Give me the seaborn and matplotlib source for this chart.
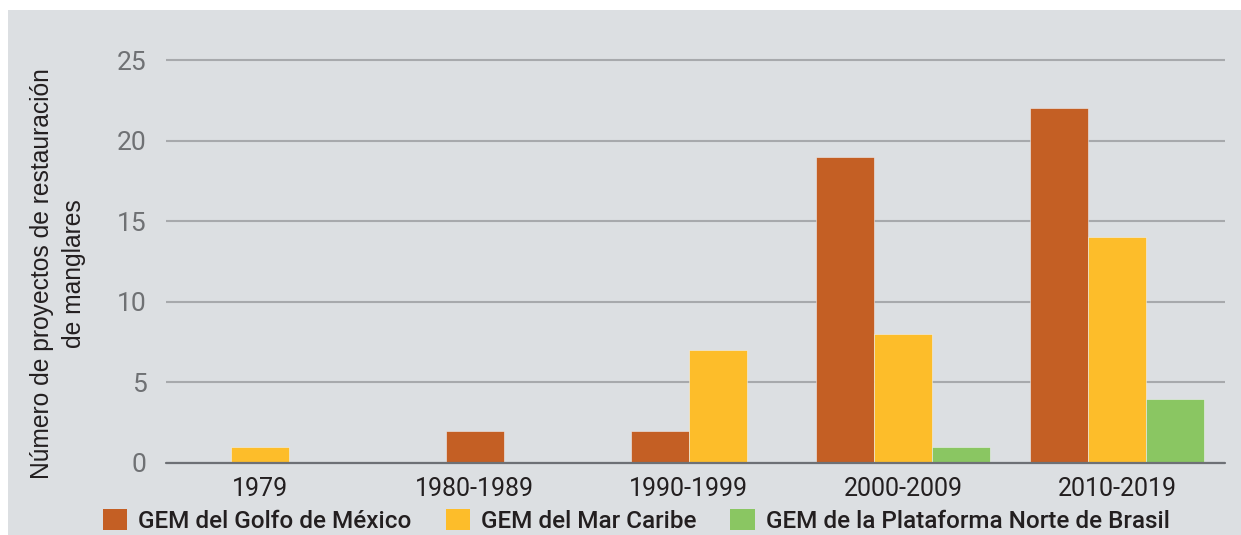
import numpy as np
import pandas as pd
import matplotlib
matplotlib.use("Agg")
import matplotlib.pyplot as plt
from matplotlib.patches import Rectangle, Patch
import seaborn as sns

# Mangrove restoration projects per decade and ecoregion
decades = ["1979", "1980-1989", "1990-1999", "2000-2009", "2010-2019"]
series = [
    "GEM del Golfo de México",
    "GEM del Mar Caribe",
    "GEM de la Plataforma Norte de Brasil",
]
golfo = [0, 2, 2, 19, 22]
caribe = [1, 0, 7, 8, 14]
brasil = [0, 0, 0, 1, 4]
y_ticks = [0, 5, 10, 15, 20, 25]
y_label = "Número de proyectos de restauración\nde manglares"

colors = ["#C45F24", "#FDBD2A", "#8AC662"]
panel_bg = "#DCDFE2"
bar_w = 0.271  # bar width in category units

sns.set_style("white")
plt.rcParams["font.family"] = ["Roboto", "DejaVu Sans"]

# Long-form table; only non-zero bars are drawn, centred within each decade
rows = []
for i, dec in enumerate(decades):
    vals = [(s, v[i]) for s, v in zip(series, [golfo, caribe, brasil]) if v[i] > 0]
    n = len(vals)
    for k, (s, v) in enumerate(vals):
        rows.append({"pos": i + (k - (n - 1) / 2) * bar_w, "valor": v, "serie": s})
df = pd.DataFrame(rows)

fig = plt.figure(figsize=(12.41, 5.35), dpi=100, facecolor="white")
fig.patches.append(Rectangle((8 / 1241, 0), 1 - 8 / 1241, 1 - 10 / 535,
                             transform=fig.transFigure, facecolor=panel_bg,
                             edgecolor="none", zorder=-10))

ax = fig.add_axes([166 / 1241, (535 - 463) / 535, (1225 - 166) / 1241, (463 - 58.4) / 535])
ax.set_facecolor(panel_bg)
ax.set_zorder(1)

sns.barplot(data=df, x="pos", y="valor", hue="serie", hue_order=series,
            palette=colors, native_scale=True, dodge=False, width=1.0,
            errorbar=None, legend=False, ax=ax,
            edgecolor="#EEF0F2", linewidth=0.4, saturation=1)

ax.set_xlim(-0.441, 4.503)
ax.set_ylim(0, 25.1)
ax.set_yticks(y_ticks)
ax.set_yticklabels([str(t) for t in y_ticks])
ax.set_xticks(range(len(decades)))
ax.set_xticklabels(decades)
ax.set_xlabel("")
ax.set_ylabel("")

ax.yaxis.grid(True, color="#A7A9AC", linewidth=1.5)
ax.xaxis.grid(False)
ax.set_axisbelow(True)
ax.axhline(0, color="#6D7075", linewidth=1.6, zorder=5, clip_on=False)
for sp in ax.spines.values():
    sp.set_visible(False)

ax.tick_params(axis="y", length=0, pad=14, labelsize=19, labelcolor="#6F7174")
ax.tick_params(axis="x", length=0, pad=10, labelsize=18, labelcolor="#231F20")

fig.text(58 / 1241, 1 - 274 / 535, y_label, rotation=90, ha="center", va="center",
         multialignment="center", fontsize=17.7, color="#231F20",
         family=["Liberation Sans", "DejaVu Sans"], linespacing=1.4)

handles = [Patch(facecolor=c, edgecolor="none") for c in colors]
fig.legend(handles, series, loc="lower left", bbox_to_anchor=(103 / 1241, 0.004),
           ncol=3, frameon=False, handlelength=1.0, handleheight=1.0,
           handletextpad=0.45, columnspacing=1.4, borderpad=0, borderaxespad=0,
           prop={"family": ["Roboto", "DejaVu Sans"], "weight": "medium", "size": 17.5})
for t in fig.legends[0].get_texts():
    t.set_color("#231F20")

fig.savefig("out.png", dpi=100, facecolor="white")
